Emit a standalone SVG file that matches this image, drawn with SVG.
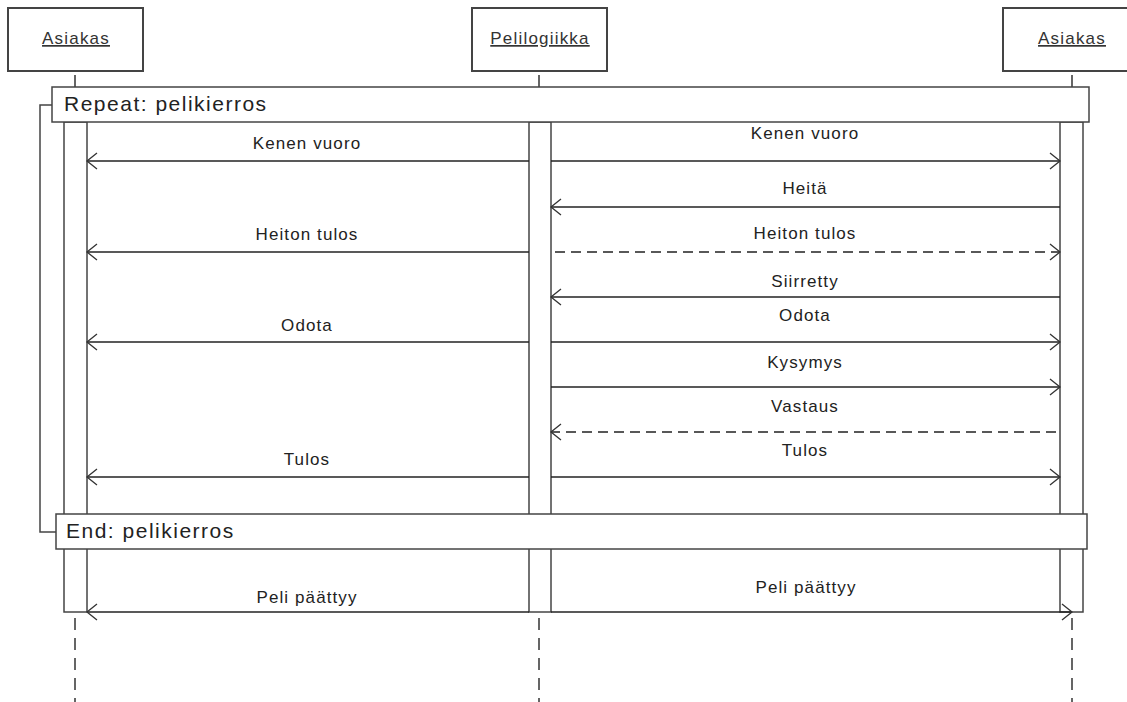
<svg xmlns="http://www.w3.org/2000/svg" width="1127" height="702" viewBox="0 0 1127 702">
<style>
.box{fill:#fff;stroke:#444;stroke-width:2}
.hd{font-family:"Liberation Sans",Arial,sans-serif;font-size:17px;letter-spacing:1.2px;fill:#333;text-anchor:middle;text-decoration:underline}
.lbl{font-family:"Liberation Sans",Arial,sans-serif;font-size:17px;letter-spacing:1.1px;fill:#222;text-anchor:middle}
.frt{font-family:"Liberation Sans",Arial,sans-serif;font-size:21px;letter-spacing:1.5px;fill:#222}
.life{stroke:#333;stroke-width:1.5;stroke-dasharray:12 8;fill:none}
.act{fill:#fff;stroke:#444;stroke-width:1.5}
.frame{fill:#fff;stroke:#444;stroke-width:1.5}
.msg{stroke:#222;stroke-width:1.3;fill:none}
.dash{stroke-dasharray:10 6}
</style>
<defs>
<marker id="ah" markerWidth="14" markerHeight="20" refX="12" refY="10" orient="auto" markerUnits="userSpaceOnUse">
<path d="M2,2 L12,10 L2,18" fill="none" stroke="#333" stroke-width="1.3"/>
</marker>
</defs>
<rect width="1127" height="702" fill="#fff"/>
<g id="lifelines">
<line class="life" x1="75" y1="75" x2="75" y2="87"/>
<line class="life" x1="539" y1="75" x2="539" y2="87"/>
<line class="life" x1="1072" y1="75" x2="1072" y2="87"/>
<line class="life" x1="75" y1="618" x2="75" y2="702"/>
<line class="life" x1="539" y1="618" x2="539" y2="702"/>
<line class="life" x1="1072" y1="618" x2="1072" y2="702"/>
</g>
<g id="actor-left"><rect class="box" x="8" y="8" width="135" height="63"/><text class="hd" x="76" y="44">Asiakas</text></g>
<g id="actor-mid"><rect class="box" x="472" y="8" width="135" height="63"/><text class="hd" x="540" y="44">Pelilogiikka</text></g>
<g id="actor-right"><rect class="box" x="1003" y="8" width="135" height="63"/><text class="hd" x="1072" y="44">Asiakas</text></g>
<g id="activations">
<rect class="act" x="64" y="122" width="23" height="490"/>
<rect class="act" x="529" y="122" width="22" height="490"/>
<rect class="act" x="1060" y="122" width="23" height="490"/>
</g>
<g id="loop">
<path d="M52,105 H40 V532 H56" fill="none" stroke="#444" stroke-width="1.5"/>
<rect class="frame" x="52" y="87" width="1037" height="35"/>
<text class="frt" x="64" y="111">Repeat: pelikierros</text>
<rect class="frame" x="56" y="514" width="1031" height="35"/>
<text class="frt" x="66" y="538">End: pelikierros</text>
</g>
<g id="connectors">
<line class="msg" x1="529" y1="161" x2="87" y2="161" marker-end="url(#ah)"/>
<line class="msg" x1="551" y1="161" x2="1060" y2="161" marker-end="url(#ah)"/>
<line class="msg" x1="1060" y1="207" x2="551" y2="207" marker-end="url(#ah)"/>
<line class="msg" x1="529" y1="252" x2="87" y2="252" marker-end="url(#ah)"/>
<line class="msg dash" x1="555" y1="252" x2="1060" y2="252" marker-end="url(#ah)"/>
<line class="msg" x1="1060" y1="297" x2="551" y2="297" marker-end="url(#ah)"/>
<line class="msg" x1="529" y1="342" x2="87" y2="342" marker-end="url(#ah)"/>
<line class="msg" x1="551" y1="342" x2="1060" y2="342" marker-end="url(#ah)"/>
<line class="msg" x1="551" y1="387" x2="1060" y2="387" marker-end="url(#ah)"/>
<line class="msg dash" x1="1056" y1="432" x2="551" y2="432" marker-end="url(#ah)"/>
<line class="msg" x1="529" y1="477" x2="87" y2="477" marker-end="url(#ah)"/>
<line class="msg" x1="551" y1="477" x2="1060" y2="477" marker-end="url(#ah)"/>
<line class="msg" x1="529" y1="612" x2="87" y2="612" marker-end="url(#ah)"/>
<line class="msg" x1="551" y1="612" x2="1072" y2="612" marker-end="url(#ah)"/>
</g>
<g id="labels">
<text class="lbl" x="307" y="149">Kenen vuoro</text>
<text class="lbl" x="805" y="139">Kenen vuoro</text>
<text class="lbl" x="805" y="194">Heitä</text>
<text class="lbl" x="307" y="240">Heiton tulos</text>
<text class="lbl" x="805" y="239">Heiton tulos</text>
<text class="lbl" x="805" y="287">Siirretty</text>
<text class="lbl" x="307" y="331">Odota</text>
<text class="lbl" x="805" y="321">Odota</text>
<text class="lbl" x="805" y="368">Kysymys</text>
<text class="lbl" x="805" y="412">Vastaus</text>
<text class="lbl" x="307" y="465">Tulos</text>
<text class="lbl" x="805" y="456">Tulos</text>
<text class="lbl" x="307" y="603">Peli päättyy</text>
<text class="lbl" x="806" y="593">Peli päättyy</text>
</g>
</svg>
